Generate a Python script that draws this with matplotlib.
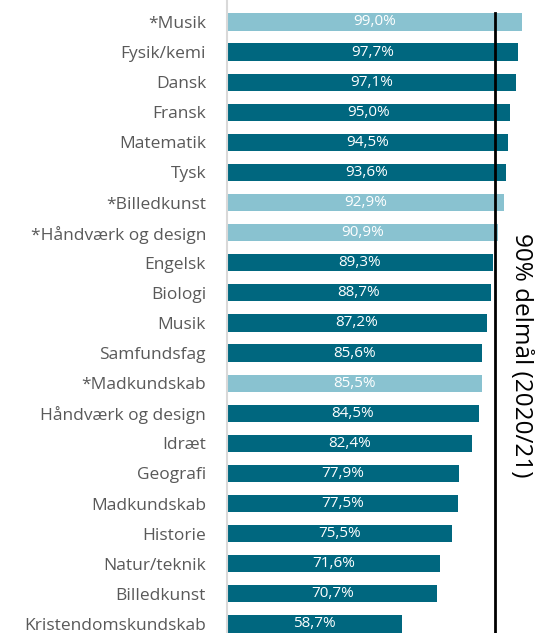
import matplotlib
matplotlib.use("Agg")
import matplotlib.pyplot as plt

subjects = ["*Musik", "Fysik/kemi", "Dansk", "Fransk", "Matematik", "Tysk",
            "*Billedkunst", "*Håndværk og design", "Engelsk", "Biologi", "Musik",
            "Samfundsfag", "*Madkundskab", "Håndværk og design", "Idræt", "Geografi",
            "Madkundskab", "Historie", "Natur/teknik", "Billedkunst", "Kristendomskundskab"]
values = [99.0, 97.7, 97.1, 95.0, 94.5, 93.6, 92.9, 90.9, 89.3, 88.7, 87.2,
          85.6, 85.5, 84.5, 82.4, 77.9, 77.5, 75.5, 71.6, 70.7, 58.7]
target = 90
target_label = "90% delmål (2020/21)"

dark, light = "#00677f", "#89c2d0"
plt.rcParams["font.family"] = ["Open Sans", "DejaVu Sans"]

fig = plt.figure(figsize=(5.48, 6.33), dpi=100)
ax = fig.add_axes([0.414, 0.0, 0.586, 1.0])

pos = range(len(subjects))
colors = [light if s.startswith("*") else dark for s in subjects]
ax.barh(pos, values, height=0.57, color=colors)
for y, v in zip(pos, values):
    ax.text(v / 2, y, f"{v:.1f}%".replace(".", ","), ha="center", va="center",
            color="white", fontsize=11)

ax.plot([target, target], [-0.3, 20.4], color="black", lw=2)
ax.text(target + 8.7, 11.06, target_label, rotation=-90, ha="center", va="center",
        fontsize=17.5, color="black")

ax.set_xlim(0, 107.8)
ax.set_ylim(20.3, -0.73)
ax.set_yticks(list(pos))
ax.set_yticklabels(subjects, fontsize=12.5, color="#595959")
ax.tick_params(axis="y", length=0, pad=15)
ax.set_xticks([])
for s in ["top", "right", "bottom"]:
    ax.spines[s].set_visible(False)
ax.spines["left"].set_color("#d9d9d9")
ax.spines["left"].set_linewidth(1.5)

fig.savefig("out.png", dpi=100)
